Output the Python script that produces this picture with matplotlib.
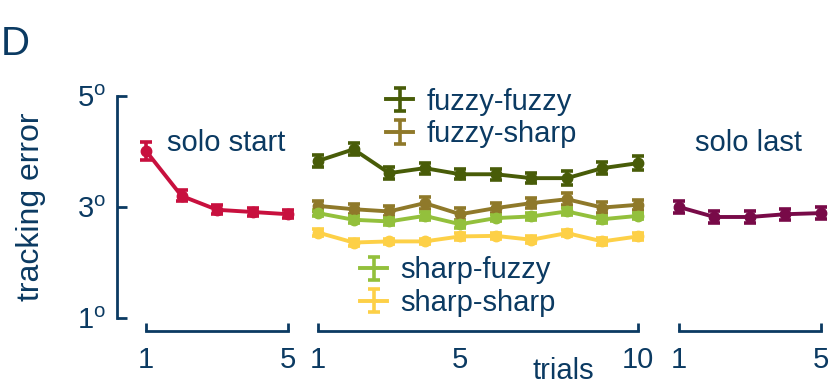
import numpy as np
import matplotlib
matplotlib.use('Agg')
import matplotlib.pyplot as plt
from matplotlib.legend_handler import HandlerErrorbar
from matplotlib.container import ErrorbarContainer

plt.rcParams['font.family'] = ['Liberation Sans', 'DejaVu Sans']
plt.rcParams['mathtext.fontset'] = 'custom'
plt.rcParams['mathtext.rm'] = 'Liberation Sans'

navy = '#0b3a62'

# solo trials
solo_x = [1, 2, 3, 4, 5]
solo_start = [4.01, 3.20, 2.95, 2.91, 2.87]
solo_start_err = [0.17, 0.10, 0.08, 0.08, 0.07]
solo_last = [3.00, 2.82, 2.82, 2.87, 2.89]
solo_last_err = [0.10, 0.11, 0.10, 0.10, 0.11]

# joint trials
joint_x = list(range(1, 11))
fuzzy_fuzzy = [3.83, 4.04, 3.61, 3.70, 3.59, 3.59, 3.52, 3.52, 3.70, 3.79]
fuzzy_fuzzy_err = [0.11, 0.11, 0.11, 0.10, 0.09, 0.10, 0.09, 0.12, 0.11, 0.12]
fuzzy_sharp = [3.02, 2.96, 2.92, 3.07, 2.87, 2.98, 3.07, 3.14, 2.99, 3.04]
fuzzy_sharp_err = [0.09, 0.09, 0.09, 0.11, 0.11, 0.09, 0.09, 0.11, 0.10, 0.09]
sharp_fuzzy = [2.89, 2.77, 2.74, 2.84, 2.69, 2.80, 2.83, 2.92, 2.78, 2.84]
sharp_fuzzy_err = [0.06, 0.06, 0.06, 0.07, 0.06, 0.06, 0.06, 0.06, 0.06, 0.06]
sharp_sharp = [2.54, 2.36, 2.38, 2.38, 2.47, 2.48, 2.41, 2.53, 2.38, 2.47]
sharp_sharp_err = [0.06, 0.06, 0.05, 0.05, 0.06, 0.06, 0.06, 0.06, 0.06, 0.06]

c_start = '#c8103e'
c_last = '#780a48'
c_ff = '#485c08'
c_fs = '#8f792a'
c_sf = '#93c03c'
c_ss = '#fdd047'

fs = 21

W, H = 830, 384
fig = plt.figure(figsize=(W / 100, H / 100), dpi=100)

def px_axes(left, right):
    return fig.add_axes([left / W, (H - 318) / H, (right - left) / W, (318 - 96) / H])

ax1 = px_axes(117, 295)
ax2 = px_axes(305, 650)
ax3 = px_axes(665, 830)

ax1.set_xlim(0.183, 5.197)
ax2.set_xlim(0.634, 10.337)
ax3.set_xlim(0.606, 5.254)

eb = dict(lw=2.8, elinewidth=2.6, capsize=4, capthick=2.6, marker='o', ms=7.5, clip_on=False)

ax1.errorbar(solo_x, solo_start, yerr=solo_start_err, color=c_start, **eb)
ax3.errorbar(solo_x, solo_last, yerr=solo_last_err, color=c_last, **eb)
ax2.errorbar(joint_x, fuzzy_fuzzy, yerr=fuzzy_fuzzy_err, color=c_ff, **eb)
ax2.errorbar(joint_x, fuzzy_sharp, yerr=fuzzy_sharp_err, color=c_fs, **eb)
ax2.errorbar(joint_x, sharp_fuzzy, yerr=sharp_fuzzy_err, color=c_sf, **eb)
ax2.errorbar(joint_x, sharp_sharp, yerr=sharp_sharp_err, color=c_ss, **eb)

# legend proxies without markers (NaN data keeps the caps)
lg = dict(lw=2.8, elinewidth=2.6, capsize=4, capthick=2.6)
h_ff = ax2.errorbar([np.nan], [np.nan], yerr=[0.1], color=c_ff, **lg)
h_fs = ax2.errorbar([np.nan], [np.nan], yerr=[0.1], color=c_fs, **lg)
h_sf = ax2.errorbar([np.nan], [np.nan], yerr=[0.1], color=c_sf, **lg)
h_ss = ax2.errorbar([np.nan], [np.nan], yerr=[0.1], color=c_ss, **lg)

for ax, last in [(ax1, 5), (ax2, 10), (ax3, 5)]:
    ax.set_ylim(1, 5)
    ax.patch.set_visible(False)
    for s in ['top', 'right', 'left']:
        ax.spines[s].set_visible(False)
    ax.spines['bottom'].set_position(('outward', 9))
    ax.spines['bottom'].set_bounds(1, last)
    ax.spines['bottom'].set_color(navy)
    ax.spines['bottom'].set_linewidth(2)
    ax.xaxis.remove_overlapping_locs = False
    ax.set_xticks([1, 5] if last == 5 else [1, 5, 10])
    ax.set_xticks([1, last], minor=True)
    ax.tick_params(axis='x', which='major', length=0, pad=11, labelsize=fs, labelcolor=navy)
    ax.tick_params(axis='x', which='minor', direction='in', length=6, width=2, color=navy)
    ax.set_yticks([])

ax1.spines['left'].set_visible(True)
ax1.spines['left'].set_bounds(1, 5)
ax1.spines['left'].set_color(navy)
ax1.spines['left'].set_linewidth(2)
ax1.set_yticks([1, 3, 5])
ax1.set_yticklabels([r'1$^{\rm o}$', r'3$^{\rm o}$', r'5$^{\rm o}$'])
ax1.tick_params(axis='y', direction='in', length=7, width=2, color=navy,
                pad=8, labelsize=fs, labelcolor=navy)
ax1.set_ylabel('tracking error', fontsize=23, color=navy, labelpad=22)

ax1.text(0.28, 0.79, 'solo start', transform=ax1.transAxes, fontsize=fs, color=navy, va='center')
ax3.text(0.18, 0.79, 'solo last', transform=ax3.transAxes, fontsize=fs, color=navy, va='center')

hmap = {ErrorbarContainer: HandlerErrorbar(xerr_size=0.4, yerr_size=0.4)}
leg1 = ax2.legend([h_ff, h_fs], ['fuzzy-fuzzy', 'fuzzy-sharp'], frameon=False, fontsize=fs,
                  loc='upper left', bbox_to_anchor=((374 - 305) / 345, 1.09), handlelength=0.95,
                  handletextpad=0.45, labelspacing=0.15, borderaxespad=0, labelcolor=navy,
                  handler_map=hmap)
ax2.add_artist(leg1)
ax2.legend([h_sf, h_ss], ['sharp-fuzzy', 'sharp-sharp'], frameon=False, fontsize=fs,
           loc='upper left', bbox_to_anchor=((348 - 305) / 345, 0.33), handlelength=0.95,
           handletextpad=0.45, labelspacing=0.15, borderaxespad=0, labelcolor=navy,
           handler_map=hmap)

fig.text(563 / W, 1 - 371 / H, 'trials', fontsize=fs, color=navy, ha='center', va='center')
fig.text(1 / W, 1 - 55 / H, 'D', fontsize=29, color=navy, ha='left', va='baseline')

fig.savefig('out.png', dpi=100)
